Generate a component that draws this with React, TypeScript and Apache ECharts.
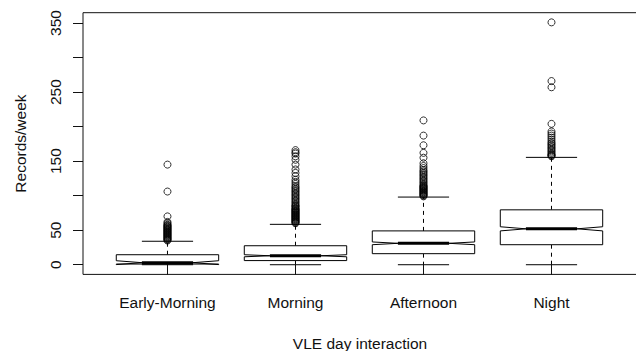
import React, { useEffect, useRef } from "react";
import * as echarts from "echarts";

const categories = ["Early-Morning", "Morning", "Afternoon", "Night"];
const lowerWhisker = [0, 0, 0, 0];
const q1 = [1, 6, 16, 29];
const median = [3, 13, 31, 52];
const q3 = [14.5, 27.5, 49, 79.5];
const upperWhisker = [34, 58.5, 98, 155.5];
const notchLow = [0.2, 11.5, 29, 49];
const notchHigh = [5.8, 14.5, 33, 55];

const earlyOutliers = [145, 106, 70, 62, 60, 58, 57, 56, 55, 54, 53, 52, 51, 50, 49, 48, 47, 46, 45, 44, 43, 42, 41, 40, 39, 38, 37, 36, 35];
const morningOutliers = [166, 163, 161, 157, 152, 145, 138, 133, 128, 123, 120, 117, 114, 112, 110, 108, 106, 104, 102, 100, 98, 96, 94, 92, 90, 88, 86, 85, 84, 82, 81, 80, 79, 78, 77, 76, 75, 74, 73, 72, 71, 70, 69, 68, 67, 66, 65, 64, 63, 62, 61, 60];
const afternoonOutliers = [209, 187, 173, 162, 155, 147, 143, 140, 137, 135, 133, 131, 129, 127, 125, 123, 121, 119, 117, 115, 114, 113, 112, 111, 110, 109, 108, 107, 106, 105, 104, 103, 102, 101, 100, 99];
const nightOutliers = [351, 266, 257, 204, 193, 190, 187, 184, 181, 178, 176, 174, 172, 170, 168, 166, 164, 162, 160, 159, 158, 157];

const yTicks = [0, 50, 100, 150, 200, 250, 300, 350];
const yLabels = [0, 50, 150, 250, 350];
const xPositions = [1, 2, 3, 4];

const FONT = "Liberation Sans";

export default function App() {
  const ref = useRef<HTMLDivElement>(null);
  useEffect(() => {
    document.body.style.margin = "0";
    if (!ref.current) return;
    const chart = echarts.init(ref.current, undefined, { renderer: "svg" });

    const boxData = categories.map((_, i) => [
      xPositions[i],
      lowerWhisker[i],
      q1[i],
      median[i],
      q3[i],
      upperWhisker[i],
      notchLow[i],
      notchHigh[i],
    ]);
    const outlierGroups = [earlyOutliers, morningOutliers, afternoonOutliers, nightOutliers];
    const outlierData: number[][] = [];
    outlierGroups.forEach((g, i) => g.forEach((v) => outlierData.push([xPositions[i], v])));

    const stroke = "#000";

    chart.setOption({
      animation: false,
      grid: {
        left: 83,
        top: 12.7,
        right: -1,
        bottom: 76.6,
        show: true,
        borderColor: "#111",
        borderWidth: 1,
        backgroundColor: "transparent",
        outerBoundsMode: "none",
        containLabel: false,
      },
      xAxis: {
        type: "value",
        min: 0.34,
        max: 4.668,
        axisLine: { show: false },
        splitLine: { show: false },
        axisTick: { show: true, inside: false, length: 10, customValues: xPositions, lineStyle: { color: "#111" } },
        axisLabel: {
          customValues: xPositions,
          formatter: (v: number) => categories[Math.round(v) - 1] ?? "",
          fontFamily: FONT,
          fontSize: 15.5,
          color: "#111",
          margin: 20,
        },
        name: "VLE day interaction",
        nameLocation: "middle",
        nameGap: 61,
        nameTextStyle: { fontFamily: FONT, fontSize: 15.5, color: "#111" },
      },
      yAxis: {
        type: "value",
        min: -14,
        max: 365,
        axisLine: { show: false },
        splitLine: { show: false },
        axisTick: { show: true, inside: false, length: 10, customValues: yTicks, lineStyle: { color: "#111" } },
        axisLabel: {
          customValues: yLabels,
          rotate: 90,
          fontFamily: FONT,
          fontSize: 15.5,
          color: "#111",
          margin: 20,
        },
        name: "Records/week",
        nameLocation: "middle",
        nameGap: 55,
        nameRotate: 90,
        nameTextStyle: { fontFamily: FONT, fontSize: 15.5, color: "#111" },
      },
      series: [
        {
          type: "custom",
          data: boxData,
          encode: { x: 0, y: [1, 2, 3, 4, 5] },
          renderItem: (params: any, api: any) => {
            const x = api.value(0);
            const lo = api.value(1);
            const a = api.value(2);
            const m = api.value(3);
            const b = api.value(4);
            const hi = api.value(5);
            const nl = api.value(6);
            const nh = api.value(7);
            const w = api.size([0.4, 0])[0];
            const cx = api.coord([x, m])[0];
            const y = (v: number) => api.coord([x, v])[1];
            const pts = [
              [cx - w, y(a)],
              [cx - w, y(nl)],
              [cx - w / 2, y(m)],
              [cx - w, y(nh)],
              [cx - w, y(b)],
              [cx + w, y(b)],
              [cx + w, y(nh)],
              [cx + w / 2, y(m)],
              [cx + w, y(nl)],
              [cx + w, y(a)],
            ];
            const dash = { stroke, lineWidth: 1, lineDash: [4, 4] };
            const solid = { stroke, lineWidth: 1 };
            return {
              type: "group",
              children: [
                { type: "line", shape: { x1: cx, y1: y(b), x2: cx, y2: y(hi) }, style: dash },
                { type: "line", shape: { x1: cx, y1: y(a), x2: cx, y2: y(lo) }, style: dash },
                { type: "line", shape: { x1: cx - w / 2, y1: y(hi), x2: cx + w / 2, y2: y(hi) }, style: solid },
                { type: "line", shape: { x1: cx - w / 2, y1: y(lo), x2: cx + w / 2, y2: y(lo) }, style: solid },
                { type: "polygon", shape: { points: pts }, style: { fill: "#fff", stroke, lineWidth: 1 } },
                { type: "line", shape: { x1: cx - w / 2, y1: y(m), x2: cx + w / 2, y2: y(m) }, style: { stroke, lineWidth: 3 } },
              ],
            };
          },
          z: 2,
        },
        {
          type: "scatter",
          data: outlierData,
          symbol: "circle",
          symbolSize: 7,
          itemStyle: { color: "rgba(0,0,0,0)", borderColor: "#000", borderWidth: 1 },
          z: 3,
        },
      ],
    });
    return () => chart.dispose();
  }, []);
  return <div ref={ref} style={{ width: 636, height: 351 }} />;
}
